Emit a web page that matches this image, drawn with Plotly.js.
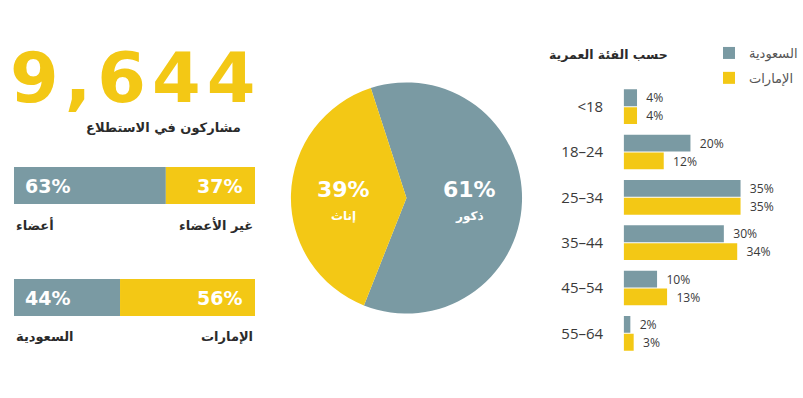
<!DOCTYPE html>
<html>
<head>
<meta charset="utf-8">
<script src="https://cdn.plot.ly/plotly-3.0.1.min.js"></script>
<style>
html,body{margin:0;padding:0;background:#fff;}
#chart{width:803px;height:398px;}
g.annotation[data-index="0"] text{letter-spacing:6px;}
g.ytick text, g.ytick tspan{direction:ltr !important;unicode-bidi:bidi-override !important;}
</style>
</head>
<body>
<div id="chart"></div>
<script>
// ---- data ----
const totalParticipants = '9,644';
const participantsLabel = 'مشاركون في الاستطلاع';
const membershipLabels = ['أعضاء', 'غير الأعضاء'];
const membershipValues = [63, 37];
const countryLabels = ['السعودية', 'الإمارات'];
const countryValues = [44, 56];
const genderLabels = ['ذكور', 'إناث'];
const genderValues = [61, 39];
const ageTitle = 'حسب الفئة العمرية';
const ageGroups = ['<18', '18–24', '25–34', '35–44', '45–54', '55–64'];
const seriesNames = ['السعودية', 'الإمارات'];
const saudiAge = [4, 20, 35, 30, 10, 2];
const uaeAge = [4, 12, 35, 34, 13, 3];

// ---- styles ----
const GREY = '#7a9aa3';
const YELLOW = '#f3c815';
const DARK = '#2b2b2b';
const W = 803, H = 398;
const px = v => v / W;
const py = v => 1 - v / H;
const AR = 'DejaVu Sans';
const NUM = 'DejaVu Sans';
const LIGHT = 'Open Sans';

const splitCats = ['membership', 'country'];
const leftA = [membershipValues[0], countryValues[0]];
const leftB = [membershipValues[1], countryValues[1]];

const traces = [
  {type: 'bar', orientation: 'h', x: leftA, y: splitCats, xaxis: 'x2', yaxis: 'y2',
   width: 0.33, offsetgroup: 'L', marker: {color: GREY}, showlegend: false, hoverinfo: 'skip'},
  {type: 'bar', orientation: 'h', x: leftB, base: leftA, y: splitCats, xaxis: 'x2', yaxis: 'y2',
   width: 0.33, offsetgroup: 'L', marker: {color: YELLOW}, showlegend: false, hoverinfo: 'skip'},
  {type: 'pie', values: genderValues, labels: genderLabels, sort: false, direction: 'clockwise',
   rotation: -18, marker: {colors: [GREY, YELLOW], line: {width: 0}}, textinfo: 'none',
   showlegend: false, hoverinfo: 'skip',
   domain: {x: [px(292), px(524)], y: [py(314), py(82)]}},
  {type: 'bar', orientation: 'h', name: seriesNames[0], legendgroup: 'sa', x: saudiAge, y: ageGroups,
   offsetgroup: 'sa', marker: {color: GREY}, texttemplate: '\u00A0\u00A0%{x}%',
   textposition: 'outside', cliponaxis: false,
   textfont: {family: LIGHT, size: 13, color: '#3a3a3a'}, hoverinfo: 'skip'},
  {type: 'bar', orientation: 'h', name: seriesNames[1], legendgroup: 'ae', x: uaeAge, y: ageGroups,
   offsetgroup: 'ae', marker: {color: YELLOW}, texttemplate: '\u00A0\u00A0%{x}%',
   textposition: 'outside', cliponaxis: false,
   textfont: {family: LIGHT, size: 13, color: '#3a3a3a'}, hoverinfo: 'skip'}
];

const annotations = [];
// big number
annotations.push({xref: 'paper', yref: 'paper', x: px(23), y: py(78), xanchor: 'left', yanchor: 'middle',
  text: totalParticipants, showarrow: false,
  font: {family: NUM, size: 70, color: YELLOW, weight: 'bold'}});
annotations.push({xref: 'paper', yref: 'paper', x: px(244), y: py(127), xanchor: 'right', yanchor: 'middle',
  text: participantsLabel, showarrow: false, font: {family: AR, size: 13, color: DARK, weight: 'bold'}});

// left split bars: percentages and labels
const leftSets = [[membershipValues, membershipLabels], [countryValues, countryLabels]];
leftSets.forEach(([vals, labs], i) => {
  annotations.push({xref: 'x2', yref: 'y2', x: 0, y: i, xanchor: 'left', yanchor: 'middle', xshift: 9,
    text: vals[0] + '%', showarrow: false, font: {family: NUM, size: 19, color: '#fff', weight: 'bold'}});
  annotations.push({xref: 'x2', yref: 'y2', x: 100, y: i, xanchor: 'right', yanchor: 'middle', xshift: -11,
    text: vals[1] + '%', showarrow: false, font: {family: NUM, size: 19, color: '#fff', weight: 'bold'}});
  annotations.push({xref: 'x2', yref: 'y2', x: 0, y: i, xanchor: 'left', yanchor: 'middle', yshift: -39,
    text: labs[0], showarrow: false, font: {family: AR, size: 13, color: DARK, weight: 'bold'}});
  annotations.push({xref: 'x2', yref: 'y2', x: 100, y: i, xanchor: 'right', yanchor: 'middle', yshift: -39,
    text: labs[1], showarrow: false, font: {family: AR, size: 13, color: DARK, weight: 'bold'}});
});

// pie labels
const pieLabelPos = [[471, 190], [345, 190]];
genderValues.forEach((v, i) => {
  annotations.push({xref: 'paper', yref: 'paper', x: px(pieLabelPos[i][0]), y: py(pieLabelPos[i][1]),
    xanchor: 'center', yanchor: 'middle', text: v + '%', showarrow: false,
    font: {family: NUM, size: 22, color: '#fff', weight: 'bold'}});
  annotations.push({xref: 'paper', yref: 'paper', x: px(pieLabelPos[i][0]), y: py(pieLabelPos[i][1] + 26),
    xanchor: 'center', yanchor: 'middle', text: genderLabels[i], showarrow: false,
    font: {family: AR, size: 12, color: '#fff', weight: 'bold'}});
});

// age title
annotations.push({xref: 'paper', yref: 'paper', x: px(673), y: py(55), xanchor: 'right', yanchor: 'middle',
  text: ageTitle, showarrow: false, font: {family: AR, size: 12.5, color: DARK, weight: 'bold'}});

const layout = {
  width: W, height: H,
  margin: {l: 0, r: 0, t: 0, b: 0},
  paper_bgcolor: '#fff', plot_bgcolor: 'rgba(0,0,0,0)',
  barmode: 'group', bargap: 0.21, bargroupgap: 0.06,
  showlegend: true,
  legend: {x: px(712), y: py(38), xanchor: 'left', yanchor: 'top', bgcolor: 'rgba(0,0,0,0)',
    font: {family: AR, size: 13, color: '#555'}, tracegroupgap: 5, itemclick: false},
  xaxis: {domain: [px(626), 1], range: [0, 52.8], visible: false, fixedrange: true},
  yaxis: {domain: [py(356), py(84)], type: 'category', autorange: 'reversed', showgrid: false,
    zeroline: false, showline: false, ticks: '',
    ticksuffix: '\u00A0\u00A0\u00A0\u00A0\u00A0',
    tickfont: {family: LIGHT, size: 15, color: '#3a3a3a'}, fixedrange: true},
  xaxis2: {domain: [px(14), px(256)], range: [0, 100], visible: false, anchor: 'y2', fixedrange: true},
  yaxis2: {domain: [py(353.5), py(129.5)], type: 'category', categoryarray: splitCats,
    range: [1.5, -0.5], visible: false, anchor: 'x2', fixedrange: true},
  annotations: annotations
};

Plotly.newPlot('chart', traces, layout, {displayModeBar: false, staticPlot: true});
</script>
</body>
</html>
